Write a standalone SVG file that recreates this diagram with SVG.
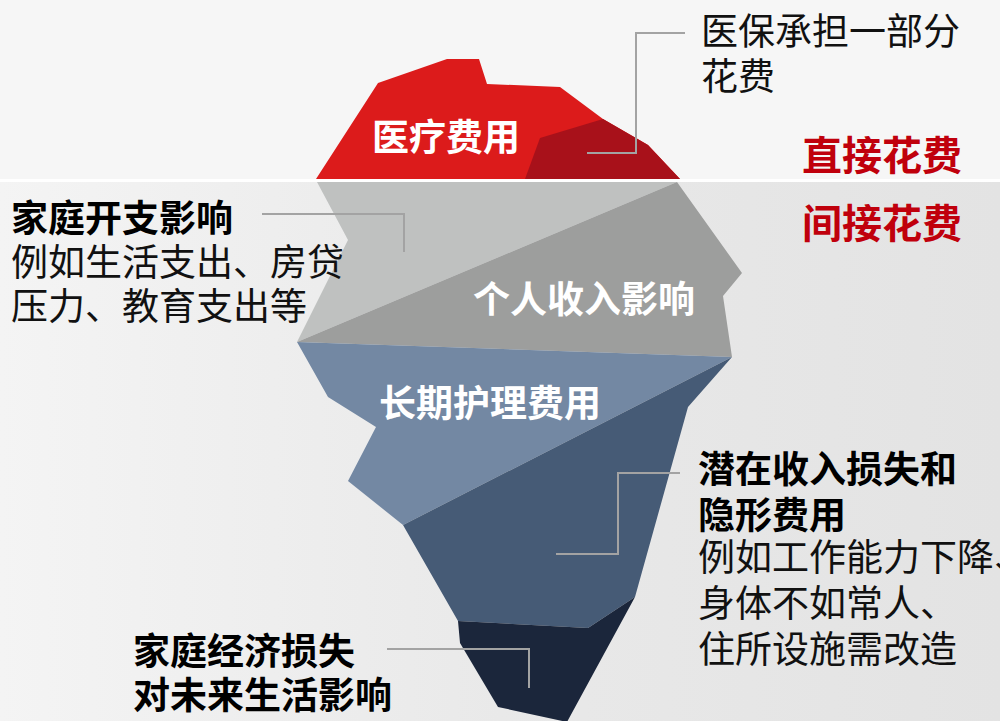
<svg xmlns="http://www.w3.org/2000/svg" width="1000" height="721" viewBox="0 0 1000 721">
  <defs>
    <linearGradient id="bgLower" x1="0" y1="0" x2="1" y2="0">
      <stop offset="0" stop-color="#f4f4f4"/>
      <stop offset="0.5" stop-color="#e9e9e9"/>
      <stop offset="1" stop-color="#e3e3e3"/>
    </linearGradient>
    <style>
      .cjk { font-family: "Noto Sans CJK SC", "Noto Sans", sans-serif; }
      .inner { font-size: 37px; font-weight: 700; fill: #ffffff; }
      .head { font-size: 37px; font-weight: 700; fill: #000000; }
      .body { font-size: 37px; font-weight: 400; fill: #111111; }
      .tag { font-size: 40px; font-weight: 700; fill: #c0000c; }
      .leader { fill: none; stroke: #a3a3a3; stroke-width: 2; }
    </style>
  </defs>

  <!-- background: above and below the waterline -->
  <rect x="0" y="0" width="1000" height="181" fill="#f6f6f6"/>
  <rect x="0" y="181" width="1000" height="540" fill="url(#bgLower)"/>

  <!-- tip of the iceberg: direct costs -->
  <g id="node-medical">
    <polygon points="316,179 378,83 447,59 479,59 487,84 560,87 603,119 648,145 680,179" fill="#dc1b1b"/>
    <polygon points="525,179 540,138 603,119 648,145 680,179" fill="#a8111a"/>
    <text class="cjk inner" x="372" y="151" font-size="36">医疗费用</text>
  </g>

  <!-- waterline -->
  <line x1="0" y1="180.5" x2="1000" y2="180.5" stroke="#ffffff" stroke-width="3"/>

  <!-- submerged part: indirect costs -->
  <g id="node-household">
    <polygon points="317,182 677,182 297,342 348,240" fill="#bfc1c0"/>
  </g>
  <g id="node-income">
    <polygon points="677,182 742,273 723,296 732,357 297,342" fill="#9d9e9d"/>
    <text class="cjk inner" x="473" y="313">个人收入影响</text>
  </g>
  <g id="node-longterm">
    <polygon points="297,342 732,357 403,525 348,481 376,427 328,397" fill="#7388a3"/>
    <text class="cjk inner" x="379" y="417">长期护理费用</text>
  </g>
  <g id="node-hidden">
    <polygon points="403,525 732,357 688,407 635,597 588,628 458,621" fill="#465b76"/>
  </g>
  <g id="node-family">
    <polygon points="458,621 588,628 635,597 567,722 498,707 460,643" fill="#1b263b"/>
  </g>

  <!-- side tags -->
  <g id="tag-direct">
    <text class="cjk tag" x="802" y="170">直接花费</text>
  </g>
  <g id="tag-indirect">
    <text class="cjk tag" x="802" y="238">间接花费</text>
  </g>

  <!-- callout labels -->
  <g id="label-insurance">
    <text class="cjk body" x="701" y="45">医保承担一部分</text>
    <text class="cjk body" x="701" y="90">花费</text>
  </g>
  <g id="label-household">
    <text class="cjk head" x="11" y="232">家庭开支影响</text>
    <text class="cjk body" x="11" y="276" font-size="36">例如生活支出、房贷</text>
    <text class="cjk body" x="11" y="320" font-size="36">压力、教育支出等</text>
  </g>
  <g id="label-hidden">
    <text class="cjk head" x="698" y="483">潜在收入损失和</text>
    <text class="cjk head" x="698" y="529">隐形费用</text>
    <text class="cjk body" x="698" y="571">例如工作能力下降、</text>
    <text class="cjk body" x="698" y="617">身体不如常人、</text>
    <text class="cjk body" x="698" y="663">住所设施需改造</text>
  </g>
  <g id="label-family">
    <text class="cjk head" x="133" y="665">家庭经济损失</text>
    <text class="cjk head" x="133" y="709">对未来生活影响</text>
  </g>

  <!-- leader lines from labels to iceberg layers -->
  <g id="connectors">
    <polyline class="leader" points="685,33 636,33 636,153 587,153"/>
    <polyline class="leader" points="262,214 404,214 404,252"/>
    <polyline class="leader" points="680,473 618,473 618,554 556,554"/>
    <polyline class="leader" points="387,649 529,649 529,688"/>
  </g>
</svg>
